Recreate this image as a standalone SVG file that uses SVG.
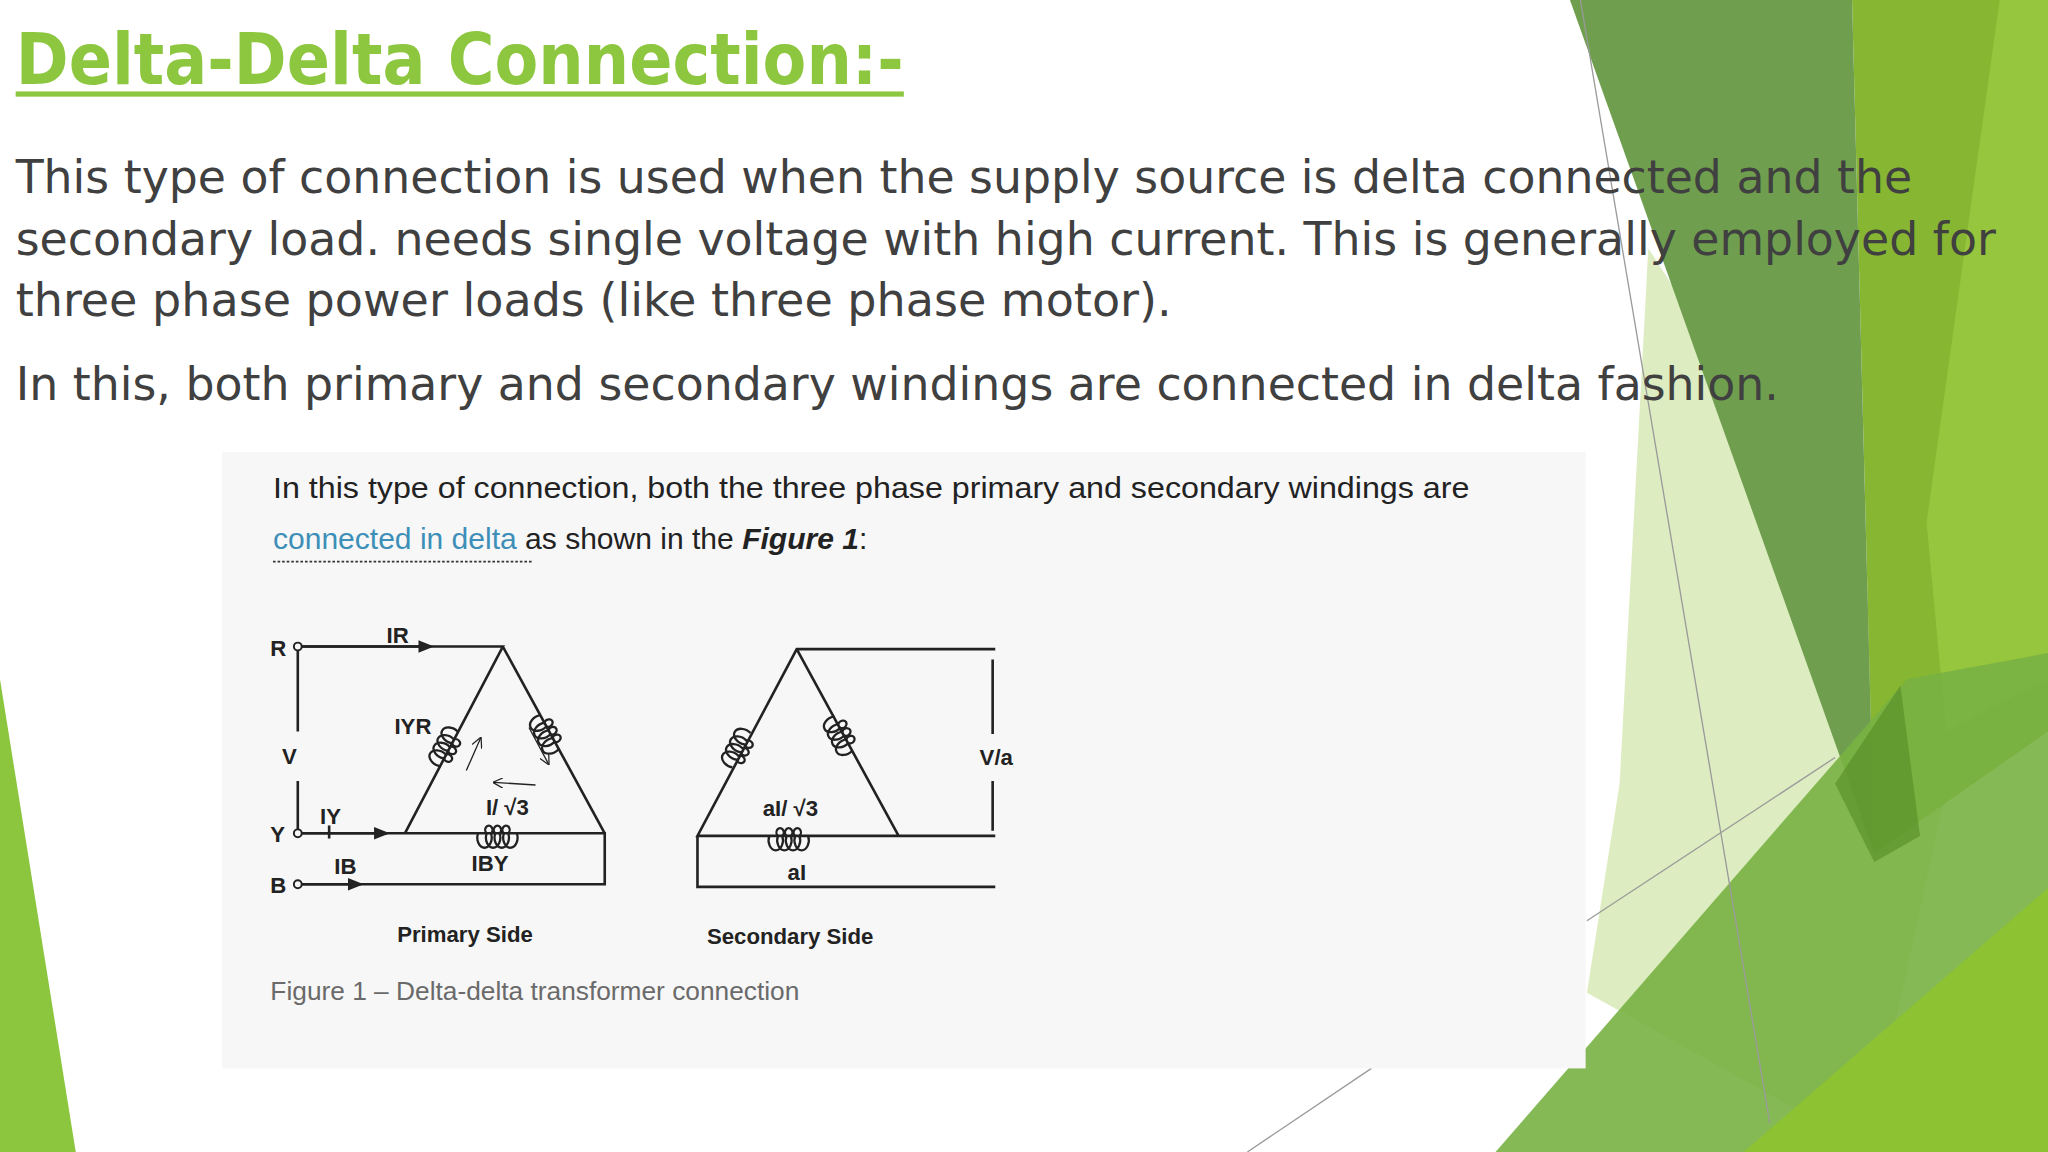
<svg xmlns="http://www.w3.org/2000/svg" width="2048" height="1152" viewBox="0 0 2048 1152">
<style>
.body{font-family:"DejaVu Sans","Noto Sans",sans-serif;font-size:35px;fill:#404040}
.fig{font-family:"Liberation Sans",Arial,sans-serif;fill:#222}
.lbl{font-family:"Liberation Sans",Arial,sans-serif;font-weight:bold;font-size:17px;fill:#222}
.w{stroke:#222;stroke-width:2;fill:none}
.bg{stroke:#9a9a9a;stroke-width:1;fill:none}
</style>
<defs>
<path id="coil" d="M-20,0 a5,7 0 1 1 9,0 a2.5,3 0 1 1 -3,0 a5,7 0 1 1 9,0 a2.5,3 0 1 1 -3,0 a5,7 0 1 1 9,0 a2.5,3 0 1 1 -3,0 a5,7 0 1 1 9,0" fill="none" stroke="#222" stroke-width="1.6"/>
<marker id="ah" viewBox="0 0 10 10" refX="8" refY="5" markerWidth="6" markerHeight="6" orient="auto"><path d="M0,1 L10,5 L0,9 z" fill="#222"/></marker>
<marker id="oa" viewBox="0 0 10 10" refX="9" refY="5" markerWidth="8" markerHeight="8" orient="auto"><path d="M0,0 L10,5 L0,10" fill="none" stroke="#222" stroke-width="1.2"/></marker>
</defs>
<rect width="2048" height="1152" fill="#fff"/>
<g transform="scale(1.30612)">
<g id="background">
<polygon points="0,520 58,882 0,882" fill="#8cc63f"/>
<polygon points="1262,190 1500,560 1430,880 1215,760 1240,600" fill="#cfe4a6" opacity="0.7"/>
<polygon points="1418,0 1568,0 1568,560 1435,653" fill="#86b632"/>
<polygon points="1531,0 1568,0 1568,520 1490,560 1475,400" fill="#96c53e"/>
<polygon points="1202,0 1418,0 1435,653" fill="#6f9f4e"/>
<polygon points="1145,882 1460,520 1568,500 1568,882" fill="#78b143" opacity="0.9"/>
<polygon points="1335,882 1568,680 1568,882" fill="#8dc232"/>
<polygon points="1405,600 1455,525 1470,640 1435,660" fill="#5a922a" opacity="0.7"/>
<line class="bg" x1="1210" y1="0" x2="1355" y2="860"/>
<line class="bg" x1="1215" y1="705" x2="1405" y2="580"/>
<line class="bg" x1="955" y1="882" x2="1050" y2="818"/>
</g>
<g id="title">
<text x="12" y="64" font-family="'DejaVu Sans','Noto Sans',sans-serif" font-weight="bold" font-size="54" fill="#8dc63f" textLength="680" lengthAdjust="spacingAndGlyphs">Delta-Delta Connection:-</text>
<rect x="12" y="70" width="680" height="4" fill="#8dc63f"/>
</g>
<g id="body-text">
<text class="body" x="12" y="148" textLength="1452" lengthAdjust="spacingAndGlyphs">This type of connection is used when the supply source is delta connected and the</text>
<text class="body" x="12" y="195" textLength="1516" lengthAdjust="spacingAndGlyphs">secondary load. needs single voltage with high current. This is generally employed for</text>
<text class="body" x="12" y="242" textLength="885" lengthAdjust="spacingAndGlyphs">three phase power loads (like three phase motor).</text>
<text class="body" x="12" y="306" textLength="1350" lengthAdjust="spacingAndGlyphs">In this, both primary and secondary windings are connected in delta fashion.</text>
</g>
<g id="figure">
<rect x="170" y="346" width="1044" height="472" fill="#f7f7f7"/>
<text class="fig" x="209" y="381" font-size="23" textLength="916" lengthAdjust="spacingAndGlyphs">In this type of connection, both the three phase primary and secondary windings are</text>
<text class="fig" x="209" y="420" font-size="23"><tspan fill="#3d8fb8">connected in delta</tspan> as shown in the <tspan font-weight="bold" font-style="italic">Figure 1</tspan>:</text>
<line x1="209" y1="430" x2="408" y2="430" stroke="#333" stroke-width="1.5" stroke-dasharray="2,1.5"/>
<text x="207" y="766" font-family="'Liberation Sans',Arial,sans-serif" font-size="20" style="fill:#6a6a6a" textLength="405" lengthAdjust="spacingAndGlyphs">Figure 1 – Delta-delta transformer connection</text>
</g>
<g id="primary">
<g fill="none" stroke="#222" stroke-width="1.5"><circle cx="228" cy="495" r="3"/><circle cx="228" cy="638" r="3"/><circle cx="228" cy="677" r="3"/></g>
<text class="lbl" x="207" y="502">R</text><text class="lbl" x="207" y="645">Y</text><text class="lbl" x="207" y="684">B</text>
<text class="lbl" x="296" y="492">IR</text>
<text class="lbl" x="216" y="585" font-size="20">V</text>
<text class="lbl" x="245" y="631">IY</text>
<text class="lbl" x="256" y="669">IB</text>
<text class="lbl" x="361" y="667">IBY</text>
<text class="lbl" x="302" y="562">IYR</text>
<text class="lbl" x="372" y="624" font-size="20">I/ √3</text>
<text class="lbl" x="356" y="721" font-size="21" text-anchor="middle">Primary Side</text>
</g>
<g id="secondary">
<text class="lbl" x="750" y="586" font-size="20">V/a</text>
<text class="lbl" x="584" y="625" font-size="20">aI/ √3</text>
<text class="lbl" x="603" y="674" font-size="20">aI</text>
<text class="lbl" x="605" y="723" font-size="21" text-anchor="middle">Secondary Side</text>
</g>
<g id="connectors">
<path class="w" d="M231,495 H385 L310,638 M385,495 L463,638"/>
<line class="w" x1="231" y1="495" x2="330" y2="495" marker-end="url(#ah)"/>
<path class="w" d="M228,498 V560 M228,598 V635"/>
<path class="w" d="M231,638 H463 V677 H231"/>
<line class="w" x1="231" y1="638" x2="296" y2="638" marker-end="url(#ah)"/>
<line class="w" x1="231" y1="677" x2="276" y2="677" marker-end="url(#ah)"/>
<line class="w" x1="252" y1="632" x2="252" y2="642"/>
<use href="#coil" transform="translate(347,567) rotate(-62.3) scale(1.1)"/>
<use href="#coil" transform="translate(424,567) rotate(62.3) scale(1.1,-1.1)"/>
<use href="#coil" transform="translate(388,638) scale(1.1,-1.1)"/>
<line x1="357" y1="590" x2="368" y2="565" stroke="#222" stroke-width="1" marker-end="url(#oa)"/>
<line x1="405" y1="557" x2="420" y2="585" stroke="#222" stroke-width="1" marker-end="url(#oa)"/>
<line x1="410" y1="601" x2="378" y2="599" stroke="#222" stroke-width="1" marker-end="url(#oa)"/>
<path class="w" d="M762,497 H610 L534,640 H762 M610,497 L688,640 M534,640 V679 H762"/>
<use href="#coil" transform="translate(571,568) rotate(-62.3) scale(1.1)"/>
<use href="#coil" transform="translate(649,568) rotate(62.3) scale(1.1,-1.1)"/>
<use href="#coil" transform="translate(611,640) scale(1.1,-1.1)"/>
<path class="w" d="M760,505 V562 M760,598 V636"/>
</g>
</g>
</svg>
